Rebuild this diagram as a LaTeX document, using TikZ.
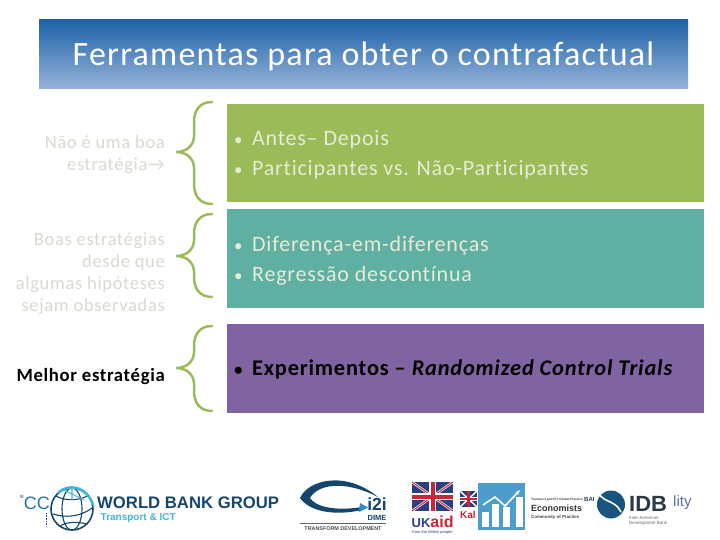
\documentclass[tikz,border=0pt]{standalone}
\usepackage{fontspec}
\setmainfont{Carlito}
\newfontfamily\cfwide[LetterSpace=3.6,Ligatures=NoCommon]{Carlito}
\newfontfamily\logofont{Liberation Sans}
\usetikzlibrary{arrows.meta}
\definecolor{cfBarTop}{HTML}{1D62A8}
\definecolor{cfBarLow}{HTML}{97B3D9}
\definecolor{cfGreen}{HTML}{9BBB59}
\definecolor{cfTeal}{HTML}{5FAFA3}
\definecolor{cfPurple}{HTML}{8064A2}
\definecolor{cfFaded}{HTML}{D9D9CE}
\definecolor{cfPale}{HTML}{E6EBD6}
\definecolor{cfNavy}{HTML}{15466E}
\definecolor{cfBlue}{HTML}{2C8CC4}
\definecolor{cfCyan}{HTML}{45B4D8}
\definecolor{cfRed}{HTML}{CC2336}
\definecolor{cfUk}{HTML}{2A3F7E}
\definecolor{cfIdb}{HTML}{2B3A45}
\newcommand{\cfdot}{{\fontsize{17}{17}\selectfont •}\hspace{9.5pt}}
\tikzset{
  cf title/.style={font=\cfwide\fontsize{34}{36}\selectfont, text=white, anchor=center},
  cf band/.style={draw=none, minimum width=477, anchor=north west, inner sep=0pt},
  cf side/.style={font=\cfwide\fontsize{18.5}{22}\selectfont, text=cfFaded, align=right, anchor=east, inner sep=0pt},
  cf item/.style={font=\cfwide\fontsize{22}{30}\selectfont, text=cfPale, align=left, anchor=west, inner sep=0pt},
  cf brace/.style={draw=cfGreen, line width=2.5pt, line cap=round},
  cf logo/.style={font=\logofont\bfseries, inner sep=0pt},
  cf union/.style={draw=white, line width=2.4pt},
}

\begin{document}
\begin{tikzpicture}[x=1pt, y=-1pt]
  \useasboundingbox (0,0) rectangle (720,540);
  % ----- Title bar -----
  \shade[top color=cfBarTop, bottom color=cfBarLow] (39,20) rectangle (688,89);
  \node[cf title] (title) at (363.5,56.5) {Ferramentas para obter o contrafactual};
  % ----- Coloured bands -----
  \node[cf band, fill=cfGreen, minimum height=98] (bandA) at (227,104) {};
  \node[cf band, fill=cfTeal, minimum height=99] (bandB) at (227,209) {};
  \node[cf band, fill=cfPurple, minimum height=89] (bandC) at (227,324) {};
  % ----- Braces -----
  \foreach \yTop/\yTip/\yLow in {102/152/204, 214/256/297, 326/368/411} {
    \draw[cf brace] (212,\yTop) .. controls (200,\yTop) and (194,\yTop+8) .. (194,\yTop+20)
      -- (194,\yTip-16) .. controls (194,\yTip-6) and (186,\yTip) .. (176,\yTip)
      .. controls (186,\yTip) and (194,\yTip+6) .. (194,\yTip+16)
      -- (194,\yLow-20) .. controls (194,\yLow-8) and (200,\yLow) .. (212,\yLow);
  }
  % ----- Side labels -----
  \node[cf side] (sideA) at (165,155) {Não é uma boa\\estratégia→};
  \node[cf side] (sideB) at (165,273.5) {Boas estratégias\\desde que\\algumas hipóteses\\sejam observadas};
  \node[cf side, text=black, font=\cfwide\bfseries\fontsize{18.7}{22}\selectfont] (sideC) at (165,377) {Melhor estratégia};
  % ----- Band texts -----
  \node[cf item] (itemA) at (234,154.5) {\cfdot Antes– Depois\\\cfdot Participantes vs. Não-Participantes};
  \node[cf item] (itemB) at (234,261) {\cfdot Diferença-em-diferenças\\\cfdot Regressão descontínua};
  \node[cf item, text=black, font=\cfwide\bfseries\fontsize{22.4}{30}\selectfont] (itemC) at (234,369.5) {\cfdot Experimentos – \textit{Randomized Control Trials}};
  % ----- Logo: World Bank Group -----
  \node[cf logo, font=\logofont\fontsize{4.5}{5}\selectfont, text=cfNavy] (cutIe) at (22,497) {IE};
  \node[cf logo, font=\logofont\fontsize{18}{18}\selectfont, text=cfBlue!70!cfNavy, anchor=east] (cutCc) at (50,503) {CC};
  \draw[cfNavy, densely dotted, line width=0.6pt] (46,513) -- (46,525);
  \fill[white] (72,509) circle (22);
  \draw[cfNavy, line width=1.6pt] (72,509) circle (21);
  \draw[cfNavy, line width=1.1pt] (72,509) ellipse (10 and 21)
    (53,514) .. controls (65,518) and (80,517) .. (92,508)
    (56,496) .. controls (66,502) and (82,500) .. (89,495)
    (60,526) .. controls (68,521) and (80,522) .. (87,524);
  \draw[cfCyan, line width=2.6pt] (58,493) .. controls (68,483) and (87,486) .. (93,505);
  \draw[cfCyan, line width=1.1pt] (72,488) -- (72,500) (64,490) -- (84,500);
  \node[cf logo, font=\logofont\bfseries\fontsize{16.7}{17}\selectfont, text=cfNavy, anchor=west] (wbg) at (97,502.5) {WORLD BANK GROUP};
  \node[cf logo, font=\logofont\bfseries\fontsize{10}{10}\selectfont, text=cfCyan, anchor=west] (wbgSub) at (100.5,518) {Transport \& ICT};
  % ----- Logo: i2i -----
  \fill[cfNavy] (300,498) .. controls (308,480) and (345,470) .. (378,497)
    .. controls (345,480) and (318,484) .. (310,498)
    .. controls (318,510) and (345,510) .. (362,507) -- (362,510)
    .. controls (335,516) and (310,512) .. (300,498) -- cycle;
  \fill[cfBlue] (360,503) -- (368,507.5) -- (359,512) -- cycle;
  \draw[black!60, line width=0.5pt] (300,523) -- (386,523);
  \node[cf logo, font=\logofont\bfseries\fontsize{17.5}{18}\selectfont, text=cfNavy] (iti) at (377,504) {i2i};
  \node[cf logo, font=\logofont\bfseries\fontsize{7.5}{7.5}\selectfont, text=cfNavy] (dime) at (377,518) {DIME};
  \node[cf logo, font=\logofont\bfseries\fontsize{5.4}{6}\selectfont, text=black!70] (transform) at (343,528.5) {TRANSFORM DEVELOPMENT};
  % ----- Logo: UK aid -----
  \fill[cfUk] (412,482) rectangle (453,511);
  \draw[cf union] (412,482) -- (453,511) (412,511) -- (453,482);
  \draw[cfRed, line width=1pt] (412,482) -- (453,511) (412,511) -- (453,482);
  \draw[cf union, line width=7pt] (432.5,482) -- (432.5,511) (412,496.5) -- (453,496.5);
  \draw[cfRed, line width=4pt] (432.5,482) -- (432.5,511) (412,496.5) -- (453,496.5);
  \node[cf logo, font=\logofont\bfseries\fontsize{13}{13}\selectfont, text=cfUk, anchor=base west] (ukaid) at (411.5,527) {UK\textcolor{cfRed}{\fontsize{16}{16}\selectfont aid}};
  \node[cf logo, font=\logofont\fontsize{4}{4}\selectfont, text=cfUk] (ukpeople) at (432.5,532) {from the British people};
  % ----- Logo: small flag and chart -----
  \fill[cfUk] (460,491) rectangle (477,507);
  \draw[cf union, line width=1.4pt] (460,491) -- (477,507) (460,507) -- (477,491);
  \draw[white, line width=3.4pt] (468.5,491) -- (468.5,507) (460,499) -- (477,499);
  \draw[cfRed, line width=2.2pt] (468.5,491) -- (468.5,507) (460,499) -- (477,499);
  \node[cf logo, font=\logofont\bfseries\fontsize{10}{10}\selectfont, text=cfRed, anchor=west] (kal) at (460,514.5) {Kal};
  \fill[cfBlue!85!white] (478,483) rectangle (525,530);
  \foreach \xBar/\yBar in {482/512, 492/504, 503/507, 516/497} {
    \fill[white] (\xBar,\yBar) rectangle (\xBar+6.5,527);
  }
  \draw[white, line width=1.6pt, -{Stealth[length=5pt]}] (483,505) -- (495,497) -- (505,506) -- (520,490);
  % ----- Logo: economists -----
  \node[cf logo, font=\logofont\bfseries\fontsize{3.2}{4}\selectfont, text=black!75, anchor=west] (econTop) at (531,500) {Transport and ICT Global Practice};
  \node[cf logo, font=\logofont\bfseries\fontsize{9}{9}\selectfont, text=black!80, anchor=west] (econ) at (531,508) {Economists};
  \node[cf logo, font=\logofont\bfseries\fontsize{4.4}{5}\selectfont, text=black!75, anchor=west] (econLow) at (531,517) {Community of Practice};
  \node[cf logo, font=\logofont\bfseries\fontsize{6}{6}\selectfont, text=cfUk, anchor=west] (bai) at (584,499.5) {BAI};
  % ----- Logo: IDB -----
  \fill[cfNavy!80!cfBlue] (611,504.5) circle (14);
  \draw[white, line width=1.6pt] (599,494) .. controls (605,503) and (615,500) .. (621,512);
  \fill[white] (620,489) -- (627,497) -- (622,491) -- cycle;
  \node[cf logo, font=\logofont\bfseries\fontsize{22}{22}\selectfont, text=cfIdb, anchor=west] (idb) at (629,504) {IDB};
  \node[cf logo, font=\logofont\fontsize{4.5}{5.2}\selectfont, text=black!60, align=left, anchor=west] (idbLow) at (629,520.5) {Inter-American\\Development Bank};
  \node[cf logo, font=\logofont\fontsize{15}{15}\selectfont, text=cfUk!75, anchor=west] (lity) at (673,503) {lity};
\end{tikzpicture}
\end{document}
